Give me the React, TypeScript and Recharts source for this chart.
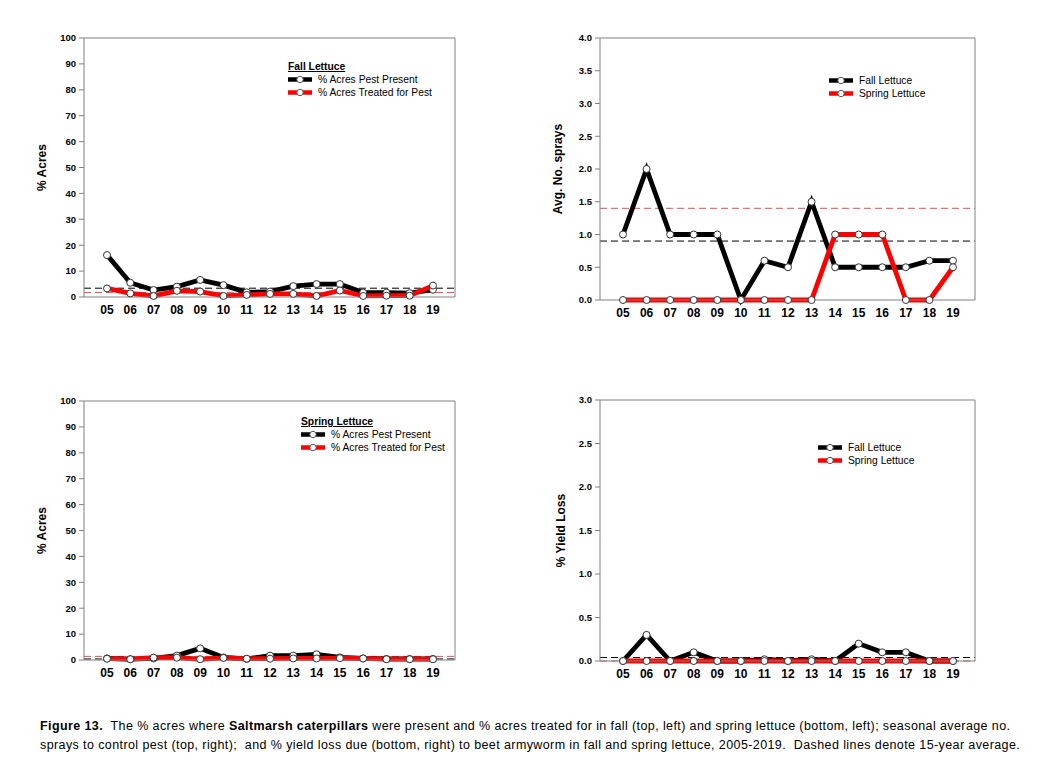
import React from "react"
import { LineChart, Line, XAxis, YAxis, ReferenceLine, Label } from "recharts"

const years = ["05", "06", "07", "08", "09", "10", "11", "12", "13", "14", "15", "16", "17", "18", "19"]

// top left - fall lettuce, % acres
const fallPestPresent = [16.2, 5.5, 2.7, 4.0, 6.6, 4.6, 1.8, 2.1, 4.2, 5.0, 5.0, 1.7, 1.7, 1.5, 2.8]
const fallTreated = [3.3, 1.4, 0.4, 2.4, 2.1, 0.4, 0.8, 1.2, 1.2, 0.4, 2.5, 0.4, 0.5, 0.5, 4.4]
const fallPestAvg = 3.4
const fallTreatedAvg = 1.7

// top right - avg no. sprays
const fallSprays = [1.0, 2.0, 1.0, 1.0, 1.0, 0, 0.6, 0.5, 1.5, 0.5, 0.5, 0.5, 0.5, 0.6, 0.6]
const springSprays = [0, 0, 0, 0, 0, 0, 0, 0, 0, 1.0, 1.0, 1.0, 0, 0, 0.5]
const fallSpraysAvg = 0.9
const springSpraysAvg = 1.4

// bottom left - spring lettuce, % acres
const springPestPresent = [0.6, 0.3, 0.6, 1.7, 4.5, 1.0, 0.4, 1.7, 1.7, 2.2, 1.0, 0.6, 0.4, 0.4, 0.4]
const springTreated = [0.5, 0.3, 0.9, 0.9, 0.3, 0.8, 0.5, 0.5, 0.6, 0.6, 0.7, 0.6, 0.3, 0.3, 0.3]
const springPestAvg = 0.4
const springTreatedAvg = 1.4

// bottom right - % yield loss
const fallYieldLoss = [0, 0.3, 0, 0.1, 0, 0, 0.02, 0, 0.02, 0, 0.2, 0.1, 0.1, 0, 0]
const springYieldLoss = [0, 0, 0, 0, 0, 0, 0, 0, 0, 0, 0, 0, 0, 0, 0]
const fallYieldAvg = 0.04
const springYieldAvg = 0.0

const acreTicks = [0, 10, 20, 30, 40, 50, 60, 70, 80, 90, 100]
const sprayTicks = [0, 0.5, 1, 1.5, 2, 2.5, 3, 3.5, 4]
const lossTicks = [0, 0.5, 1, 1.5, 2, 2.5, 3]

const FONT = "'Liberation Sans', Arial, sans-serif"
const AXIS = "#808080"
const RED = "#ff0000"
const RED_AVG = "#e05050"

const build = (a: number[], b: number[]) => years.map((y, i) => ({ year: y, a: a[i], b: b[i] }))

type PanelProps = {
    left: number
    top: number
    width: number
    height: number
    marginTop: number
    leftW: number
    rightW: number
    data: { year: string; a: number; b: number }[]
    avgA: number
    avgB: number
    ticks: number[]
    fixed: boolean
    title: string
    titleDx: number
}

function Panel(p: PanelProps) {
    const max = p.ticks[p.ticks.length - 1]
    const fmt = (v: number) => (p.fixed ? v.toFixed(1) : String(v))
    const tickStyle = { fontFamily: FONT, fontWeight: "bold", fontSize: 9.5, fill: "#000" }
    const dot = { r: 3.5, fill: "#fff", stroke: "#333", strokeWidth: 1 }
    return (
        <div style={{ position: "absolute", left: p.left, top: p.top }}>
            <LineChart width={p.width} height={p.height} data={p.data}
                margin={{ top: p.marginTop, right: 0, left: 0, bottom: 0 }}>
                <XAxis dataKey="year" scale="point" padding={{ left: 23, right: 22 }}
                    tickLine={false} stroke={AXIS} height={23} interval={0}
                    tick={{ fontFamily: FONT, fontWeight: "bold", fontSize: 12, fill: "#000" }} />
                <YAxis yAxisId="l" domain={[0, max]} ticks={p.ticks} tickFormatter={fmt}
                    width={p.leftW} stroke={AXIS} tickSize={5} tickMargin={3} tick={tickStyle}>
                    <Label value={p.title} angle={-90} position="center" dx={p.titleDx}
                        style={{ fontFamily: FONT, fontWeight: "bold", fontSize: 12, fill: "#000" }} />
                </YAxis>
                <YAxis yAxisId="r" orientation="right" domain={[0, max]} ticks={p.ticks}
                    tickFormatter={fmt} width={p.rightW} stroke={AXIS} tickSize={5} tickMargin={3}
                    tick={tickStyle} />
                <ReferenceLine yAxisId="l" y={max} stroke={AXIS} />
                <ReferenceLine yAxisId="l" y={p.avgA} stroke="#000" strokeDasharray="7 4" />
                <ReferenceLine yAxisId="l" y={p.avgB} stroke={RED_AVG} strokeDasharray="7 4" />
                <Line yAxisId="l" dataKey="a" stroke="#000" strokeWidth={4.8} dot={dot}
                    isAnimationActive={false} />
                <Line yAxisId="l" dataKey="b" stroke={RED} strokeWidth={4.8} dot={dot}
                    isAnimationActive={false} />
            </LineChart>
        </div>
    )
}

function LegendBox({ left, top, title, labels }: { left: number; top: number; title?: string; labels: string[] }) {
    const colors = ["#000", RED]
    return (
        <div style={{ position: "absolute", left, top, fontFamily: FONT, fontSize: 10.3, color: "#000", lineHeight: "13px" }}>
            {title && <div style={{ fontWeight: "bold", textDecoration: "underline" }}>{title}</div>}
            {labels.map((l, i) => (
                <div key={l} style={{ display: "flex", alignItems: "center" }}>
                    <svg width={24} height={13} style={{ marginRight: 6 }}>
                        <line x1={0} y1={6.5} x2={24} y2={6.5} stroke={colors[i]} strokeWidth={4.5} />
                        <circle cx={12} cy={6.5} r={3.2} fill="#fff" stroke="#555" strokeWidth={1} />
                    </svg>
                    <span>{l}</span>
                </div>
            ))}
        </div>
    )
}

export default function App() {
    return (
        <div style={{ position: "absolute", left: 0, top: 0, width: 1049, height: 784, background: "#fff" }}>
            <Panel left={0} top={0} width={500} height={320} marginTop={38} leftW={84} rightW={45}
                data={build(fallPestPresent, fallTreated)} avgA={fallPestAvg} avgB={fallTreatedAvg}
                ticks={acreTicks} fixed={false} title="% Acres" titleDx={0} />
            <Panel left={530} top={0} width={500} height={323} marginTop={38} leftW={70} rightW={55}
                data={build(fallSprays, springSprays)} avgA={fallSpraysAvg} avgB={springSpraysAvg}
                ticks={sprayTicks} fixed={true} title="Avg. No. sprays" titleDx={-7} />
            <Panel left={0} top={360} width={500} height={323} marginTop={41} leftW={84} rightW={45}
                data={build(springPestPresent, springTreated)} avgA={springPestAvg} avgB={springTreatedAvg}
                ticks={acreTicks} fixed={false} title="% Acres" titleDx={0} />
            <Panel left={530} top={360} width={500} height={324} marginTop={40} leftW={70} rightW={55}
                data={build(fallYieldLoss, springYieldLoss)} avgA={fallYieldAvg} avgB={springYieldAvg}
                ticks={lossTicks} fixed={true} title="% Yield Loss" titleDx={-4} />

            <LegendBox left={288} top={60} title="Fall Lettuce" labels={["% Acres Pest Present", "% Acres Treated for Pest"]} />
            <LegendBox left={301} top={415} title="Spring Lettuce" labels={["% Acres Pest Present", "% Acres Treated for Pest"]} />
            <LegendBox left={829} top={74} labels={["Fall Lettuce", "Spring Lettuce"]} />
            <LegendBox left={818} top={441} labels={["Fall Lettuce", "Spring Lettuce"]} />

            <div style={{ position: "absolute", left: 40, top: 717, width: 1009, fontFamily: FONT, fontSize: 12.5, letterSpacing: 0.4, lineHeight: "19px", color: "#000", whiteSpace: "nowrap" }}>
                <b>Figure 13.</b>&nbsp; The % acres where <b>Saltmarsh caterpillars</b> were present and % acres treated for in fall (top, left) and spring lettuce (bottom, left); seasonal average no.
                <br />
                sprays to control pest (top, right);&nbsp; and % yield loss due (bottom, right) to beet armyworm in fall and spring lettuce, 2005-2019.&nbsp; Dashed lines denote 15-year average.
            </div>
        </div>
    )
}
